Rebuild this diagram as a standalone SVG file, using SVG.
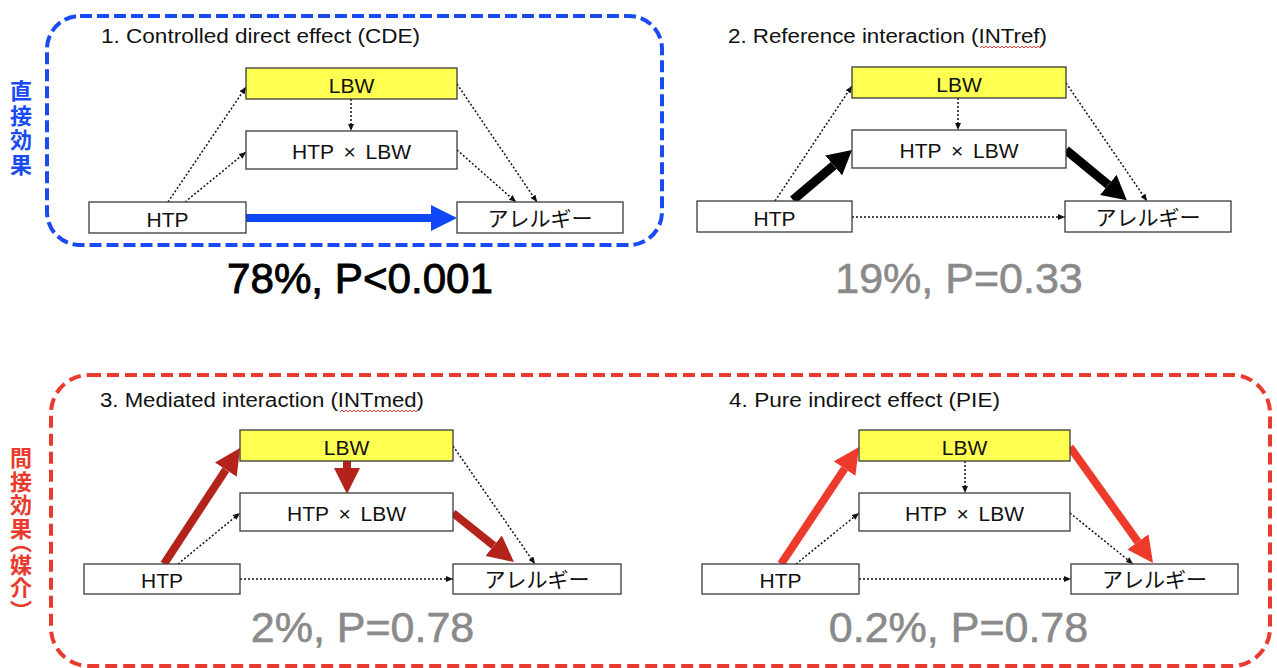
<svg xmlns="http://www.w3.org/2000/svg" width="1277" height="668" viewBox="0 0 1277 668">
<style>
  .bx{fill:#fff;stroke:#3a3a3a;stroke-width:1.3}
  .yl{fill:#FFFF52;stroke:#3a3a3a;stroke-width:1.3}
  .t{font-family:"Liberation Sans","Noto Sans CJK JP",sans-serif;font-size:21px;fill:#111;text-anchor:middle}
  .jp{font-family:"Noto Sans CJK JP",sans-serif;font-size:21px;fill:#111;text-anchor:middle}
  .ttl{font-family:"Liberation Sans","Noto Sans CJK JP",sans-serif;font-size:20px;fill:#111}
  .big{font-family:"Liberation Sans",sans-serif;font-size:43px;fill:#8A8A8A;stroke:#8A8A8A;stroke-width:0.6;text-anchor:middle}
  .side{font-family:"Noto Sans CJK JP",sans-serif;font-size:22px;font-weight:bold;writing-mode:vertical-rl}
  .dot{stroke:#111;stroke-width:1.5;stroke-dasharray:2 2;fill:none;marker-end:url(#ah)}
  .wv{stroke:#E0413A;stroke-width:1;fill:none}
</style>
<defs>
  <marker id="ah" markerWidth="7" markerHeight="6" refX="7" refY="3" orient="auto" markerUnits="userSpaceOnUse"><path d="M0,0 L7,3 L0,6 z" fill="#111"/></marker>
  <marker id="hb" markerWidth="26" markerHeight="26" refX="0" refY="13" orient="auto" markerUnits="userSpaceOnUse"><path d="M0,0 L26,13 L0,26 z" fill="#0F47F5"/></marker>
  <marker id="hk" markerWidth="24" markerHeight="26" refX="0" refY="13" orient="auto" markerUnits="userSpaceOnUse"><path d="M0,0 L24,13 L0,26 z" fill="#000"/></marker>
  <marker id="hd" markerWidth="26" markerHeight="26" refX="0" refY="13" orient="auto" markerUnits="userSpaceOnUse"><path d="M0,0 L26,13 L0,26 z" fill="#B3231C"/></marker>
  <marker id="hr" markerWidth="26" markerHeight="26" refX="0" refY="13" orient="auto" markerUnits="userSpaceOnUse"><path d="M0,0 L26,13 L0,26 z" fill="#EE3A2A"/></marker>
</defs>
<rect width="1277" height="668" fill="#fff"/>

<!-- group frames -->
<g id="frame-direct">
  <rect x="47" y="16" width="615" height="229" rx="33" fill="none" stroke="#1A4BF2" stroke-width="4" stroke-dasharray="12 5"/>
  <text class="side" x="21" y="80" fill="#1A4BF2" letter-spacing="2.5">直接効果</text>
</g>
<g id="frame-indirect">
  <rect x="51" y="375" width="1219" height="291" rx="38" fill="none" stroke="#E83A2E" stroke-width="4" stroke-dasharray="12 6"/>
  <text class="side" x="21" y="447" fill="#E83A2E" letter-spacing="1.5" style="font-feature-settings:'vpal'">間接効果（媒介）</text>
</g>

<!-- titles -->
<g id="titles">
  <text class="ttl" x="101" y="43" textLength="319" lengthAdjust="spacingAndGlyphs">1. Controlled direct effect (CDE)</text>
  <text class="ttl" x="728" y="43" textLength="319" lengthAdjust="spacingAndGlyphs">2. Reference interaction (INTref)</text>
  <text class="ttl" x="100" y="407" textLength="324" lengthAdjust="spacingAndGlyphs">3. Mediated interaction (INTmed)</text>
  <text class="ttl" x="729" y="407" textLength="271" lengthAdjust="spacingAndGlyphs">4. Pure indirect effect (PIE)</text>
  <path class="wv" d="M980,48 l2,-2 l2,2 l2,-2 l2,2 l2,-2 l2,2 l2,-2 l2,2 l2,-2 l2,2 l2,-2 l2,2 l2,-2 l2,2 l2,-2 l2,2 l2,-2 l2,2 l2,-2 l2,2 l2,-2 l2,2 l2,-2 l2,2 l2,-2 l2,2 l2,-2 l2,2 l2,-2 l2,2 l2,-2"/>
  <path class="wv" d="M340,412 l2,-2 l2,2 l2,-2 l2,2 l2,-2 l2,2 l2,-2 l2,2 l2,-2 l2,2 l2,-2 l2,2 l2,-2 l2,2 l2,-2 l2,2 l2,-2 l2,2 l2,-2 l2,2 l2,-2 l2,2 l2,-2 l2,2 l2,-2 l2,2 l2,-2 l2,2 l2,-2 l2,2 l2,-2 l2,2 l2,-2 l2,2 l2,-2 l2,2 l2,-2 l2,2 l2,-2"/>
</g>

<!-- connectors -->
<g id="connectors">
  <!-- panel 1 -->
  <line x1="246" y1="218" x2="431" y2="218" stroke="#0F47F5" stroke-width="8" marker-end="url(#hb)"/>
  <line class="dot" x1="168" y1="202" x2="246" y2="87"/>
  <line class="dot" x1="185" y1="202" x2="246" y2="152"/>
  <line class="dot" x1="351" y1="99" x2="351" y2="131"/>
  <line class="dot" x1="457" y1="84" x2="537" y2="202"/>
  <line class="dot" x1="457" y1="150" x2="516" y2="202"/>
  <!-- panel 2 -->
  <line x1="793" y1="200" x2="833.7" y2="165.5" stroke="#000" stroke-width="9" marker-end="url(#hk)"/>
  <line x1="1066" y1="150" x2="1108.3" y2="184.9" stroke="#000" stroke-width="9" marker-end="url(#hk)"/>
  <line class="dot" x1="775" y1="201" x2="852" y2="86"/>
  <line class="dot" x1="958" y1="98" x2="958" y2="130"/>
  <line class="dot" x1="1066" y1="83" x2="1147" y2="201"/>
  <line class="dot" x1="852" y1="217" x2="1065" y2="217"/>
  <!-- panel 3 -->
  <line x1="164" y1="564" x2="225.8" y2="469.7" stroke="#B3231C" stroke-width="8" marker-end="url(#hd)"/>
  <line x1="347" y1="461" x2="347" y2="468" stroke="#B3231C" stroke-width="8" marker-end="url(#hd)"/>
  <line x1="453" y1="513" x2="493.7" y2="545.7" stroke="#B3231C" stroke-width="8" marker-end="url(#hd)"/>
  <line class="dot" x1="178" y1="564" x2="240" y2="513"/>
  <line class="dot" x1="240" y1="579" x2="453" y2="579"/>
  <line class="dot" x1="453" y1="446" x2="535" y2="564"/>
  <!-- panel 4 -->
  <line x1="781" y1="564" x2="844.6" y2="468.6" stroke="#EE3A2A" stroke-width="8" marker-end="url(#hr)"/>
  <line x1="1070" y1="447" x2="1137.9" y2="541.9" stroke="#EE3A2A" stroke-width="8" marker-end="url(#hr)"/>
  <line class="dot" x1="965" y1="461" x2="965" y2="493"/>
  <line class="dot" x1="796" y1="564" x2="859" y2="513"/>
  <line class="dot" x1="1070" y1="513" x2="1133" y2="564"/>
  <line class="dot" x1="859" y1="579" x2="1071" y2="579"/>
</g>

<!-- panel 1 nodes -->
<g id="p1-lbw"><rect class="yl" x="246" y="68" width="211" height="31"/><text class="t" x="351.5" y="93">LBW</text></g>
<g id="p1-int"><rect class="bx" x="246" y="131" width="211" height="38"/><text class="t" x="351.5" y="159" word-spacing="4">HTP × LBW</text></g>
<g id="p1-htp"><rect class="bx" x="89" y="202" width="157" height="31"/><text class="t" x="167.5" y="227">HTP</text></g>
<g id="p1-all"><rect class="bx" x="457" y="202" width="166" height="31"/><text class="jp" x="540" y="226">アレルギー</text></g>

<!-- panel 2 nodes -->
<g id="p2-lbw"><rect class="yl" x="852" y="67" width="214" height="31"/><text class="t" x="959" y="92">LBW</text></g>
<g id="p2-int"><rect class="bx" x="852" y="130" width="214" height="38"/><text class="t" x="959" y="158" word-spacing="4">HTP × LBW</text></g>
<g id="p2-htp"><rect class="bx" x="697" y="201" width="155" height="31"/><text class="t" x="774.5" y="226">HTP</text></g>
<g id="p2-all"><rect class="bx" x="1065" y="201" width="166" height="31"/><text class="jp" x="1148" y="225">アレルギー</text></g>

<!-- panel 3 nodes -->
<g id="p3-lbw"><rect class="yl" x="240" y="430" width="213" height="31"/><text class="t" x="346.5" y="455">LBW</text></g>
<g id="p3-int"><rect class="bx" x="240" y="493" width="213" height="38"/><text class="t" x="346.5" y="521" word-spacing="4">HTP × LBW</text></g>
<g id="p3-htp"><rect class="bx" x="84" y="564" width="156" height="30"/><text class="t" x="162" y="588">HTP</text></g>
<g id="p3-all"><rect class="bx" x="453" y="564" width="168" height="30"/><text class="jp" x="537" y="587">アレルギー</text></g>

<!-- panel 4 nodes -->
<g id="p4-lbw"><rect class="yl" x="859" y="430" width="211" height="31"/><text class="t" x="964.5" y="455">LBW</text></g>
<g id="p4-int"><rect class="bx" x="859" y="493" width="211" height="38"/><text class="t" x="964.5" y="521" word-spacing="4">HTP × LBW</text></g>
<g id="p4-htp"><rect class="bx" x="702" y="564" width="157" height="30"/><text class="t" x="780.5" y="588">HTP</text></g>
<g id="p4-all"><rect class="bx" x="1071" y="564" width="167" height="30"/><text class="jp" x="1154.5" y="587">アレルギー</text></g>

<!-- results -->
<g id="results">
  <text class="big" x="360" y="293" style="fill:#000;stroke:#000;stroke-width:0.9" textLength="266" lengthAdjust="spacingAndGlyphs">78%, P&lt;0.001</text>
  <text class="big" x="959" y="293">19%, P=0.33</text>
  <text class="big" x="362.5" y="642">2%, P=0.78</text>
  <text class="big" x="958.5" y="642">0.2%, P=0.78</text>
</g>
</svg>
